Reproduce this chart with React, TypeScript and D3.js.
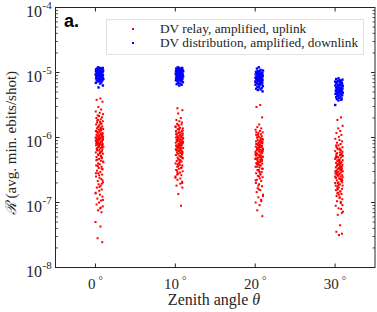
import React from 'react';
import * as d3 from 'd3';

// zenith angles (degrees)
const angles = [0, 10, 20, 30];
const xTickLabels = ['0', '10', '20', '30'];
const yTickExps = [-8, -7, -6, -5, -4];

// log10 of rate, DV relay, amplified, uplink
const relay0 = [-5.40,-5.42,-5.45,-5.53,-5.57,-5.60,-5.62,-5.64,-5.66,-5.67,-5.69,-5.70,-5.72,-5.73,-5.75,-5.76,-5.77,-5.79,-5.80,-5.81,-5.83,-5.84,-5.85,-5.86,-5.87,-5.88,-5.89,-5.90,-5.91,-5.92,-5.93,-5.94,-5.95,-5.96,-5.97,-5.97,-5.98,-5.99,-6.00,-6.00,-6.01,-6.02,-6.03,-6.03,-6.04,-6.05,-6.06,-6.06,-6.07,-6.08,-6.09,-6.10,-6.10,-6.11,-6.12,-6.13,-6.14,-6.15,-6.16,-6.17,-6.18,-6.19,-6.20,-6.22,-6.23,-6.24,-6.25,-6.27,-6.28,-6.30,-6.31,-6.33,-6.34,-6.36,-6.38,-6.40,-6.41,-6.43,-6.45,-6.47,-6.49,-6.51,-6.53,-6.55,-6.57,-6.60,-6.62,-6.64,-6.67,-6.69,-6.72,-6.74,-6.77,-6.80,-6.82,-6.85,-6.88,-6.91,-6.94,-6.97,-7.00,-7.03,-7.06,-7.09,-7.12,-7.15,-7.30,-7.37,-7.55,-7.61,
  -5.78,-5.91,-5.95,-6.02,-5.86,-6.05,-6.11,-5.99,-6.08,-6.14,-6.21,-6.01,-5.94,-6.26,-6.04,-5.88,-6.17,-6.32,-6.09,-5.97,-6.13,-6.44,-6.02,-6.19,-6.37,-5.83,-6.07,-6.55,-6.24,-5.92,-6.66,-6.12,-6.29,-6.03,-6.76,-6.15,-5.74,-6.48,-6.00,-6.86,-6.22,-6.96,-6.06,-6.58,-5.98,-6.35,-7.08,-6.10,-6.71,-6.18];
const relay10 = [-5.55,-5.58,-5.63,-5.70,-5.73,-5.75,-5.77,-5.79,-5.80,-5.82,-5.83,-5.85,-5.86,-5.87,-5.88,-5.90,-5.91,-5.92,-5.93,-5.94,-5.95,-5.96,-5.97,-5.98,-5.99,-6.00,-6.00,-6.01,-6.02,-6.03,-6.04,-6.04,-6.05,-6.06,-6.07,-6.08,-6.08,-6.09,-6.10,-6.11,-6.12,-6.12,-6.13,-6.14,-6.15,-6.16,-6.17,-6.18,-6.19,-6.20,-6.21,-6.22,-6.23,-6.24,-6.25,-6.26,-6.27,-6.28,-6.30,-6.31,-6.32,-6.33,-6.35,-6.36,-6.37,-6.39,-6.40,-6.42,-6.43,-6.45,-6.47,-6.48,-6.50,-6.52,-6.54,-6.56,-6.58,-6.60,-6.63,-6.65,-6.68,-6.71,-6.74,-6.77,-6.87,-7.05,
  -5.84,-5.97,-6.01,-6.06,-5.92,-6.09,-6.13,-6.03,-6.16,-5.89,-6.19,-6.05,-6.22,-5.95,-6.11,-6.26,-6.00,-6.29,-6.14,-6.07,-6.34,-5.98,-6.18,-6.38,-6.02,-6.24,-6.44,-6.10,-6.50,-5.86,-6.31,-6.57,-6.08,-6.21,-6.62,-6.04,-5.94,-6.41,-6.15,-6.70,-6.27,-6.12,-5.81,-6.46,-6.20,-6.35,-6.01,-6.53,-6.17,-5.90];
const relay20 = [-5.50,-5.53,-5.69,-5.80,-5.84,-5.86,-5.88,-5.90,-5.92,-5.93,-5.95,-5.96,-5.98,-5.99,-6.00,-6.01,-6.03,-6.04,-6.05,-6.06,-6.07,-6.08,-6.09,-6.10,-6.11,-6.12,-6.13,-6.14,-6.14,-6.15,-6.16,-6.17,-6.18,-6.19,-6.20,-6.20,-6.21,-6.22,-6.23,-6.24,-6.25,-6.26,-6.27,-6.28,-6.29,-6.30,-6.31,-6.32,-6.33,-6.34,-6.35,-6.36,-6.38,-6.39,-6.40,-6.42,-6.43,-6.45,-6.46,-6.48,-6.50,-6.51,-6.53,-6.55,-6.57,-6.59,-6.61,-6.63,-6.65,-6.67,-6.70,-6.72,-6.75,-6.78,-6.81,-6.84,-6.88,-6.92,-6.96,-7.00,-7.04,-7.12,-7.21,
  -5.96,-6.04,-6.10,-6.15,-6.02,-6.19,-6.22,-6.08,-6.26,-6.12,-6.30,-6.00,-6.17,-6.34,-6.24,-6.06,-6.37,-6.14,-6.41,-6.28,-6.20,-6.45,-6.09,-6.32,-6.50,-6.18,-6.39,-6.56,-6.25,-6.03,-6.60,-6.33,-6.13,-6.66,-6.43,-6.21,-6.74,-6.29,-5.92,-6.48,-6.80,-6.16,-6.36,-6.90,-6.11,-6.53,-6.27,-6.98,-6.40,-6.07];
const relay30 = [-5.69,-5.73,-5.82,-5.86,-5.90,-5.93,-5.96,-5.99,-6.02,-6.04,-6.06,-6.08,-6.10,-6.12,-6.14,-6.15,-6.17,-6.18,-6.20,-6.21,-6.23,-6.24,-6.25,-6.27,-6.28,-6.29,-6.30,-6.31,-6.33,-6.34,-6.35,-6.36,-6.37,-6.38,-6.39,-6.40,-6.41,-6.42,-6.43,-6.44,-6.45,-6.46,-6.47,-6.48,-6.49,-6.50,-6.51,-6.52,-6.53,-6.54,-6.55,-6.56,-6.57,-6.58,-6.59,-6.60,-6.62,-6.63,-6.64,-6.66,-6.67,-6.69,-6.70,-6.72,-6.74,-6.75,-6.77,-6.79,-6.81,-6.83,-6.85,-6.87,-6.90,-6.92,-6.95,-6.98,-7.01,-7.05,-7.09,-7.14,-7.19,-7.35,-7.45,-7.48,-7.50,
  -6.16,-6.26,-6.32,-6.38,-6.22,-6.42,-6.47,-6.30,-6.51,-6.36,-6.55,-6.44,-6.28,-6.58,-6.40,-6.62,-6.49,-6.34,-6.66,-6.53,-6.19,-6.70,-6.45,-6.74,-6.57,-6.39,-6.78,-6.61,-6.48,-6.83,-6.25,-6.65,-6.88,-6.52,-6.93,-6.69,-6.43,-6.99,-6.73,-6.56,-7.04,-6.35,-6.80,-7.10,-6.60,-6.46,-6.86,-7.16,-6.64,-6.12];

// log10 of rate, DV distribution, amplified, downlink
const dist0 = [-4.92,-4.93,-4.93,-4.94,-4.94,-4.95,-4.95,-4.95,-4.96,-4.96,-4.97,-4.97,-4.97,-4.98,-4.98,-4.99,-4.99,-4.99,-5.00,-5.00,-5.00,-5.01,-5.01,-5.02,-5.02,-5.02,-5.03,-5.03,-5.04,-5.04,-5.04,-5.05,-5.05,-5.06,-5.06,-5.06,-5.07,-5.07,-5.08,-5.08,-5.09,-5.09,-5.10,-5.10,-5.11,-5.11,-5.12,-5.12,-5.13,-5.14,-5.15,-5.16,-5.17,-5.20,-5.23];
const dist10 = [-4.92,-4.93,-4.93,-4.94,-4.94,-4.95,-4.95,-4.96,-4.96,-4.96,-4.97,-4.97,-4.98,-4.98,-4.98,-4.99,-4.99,-5.00,-5.00,-5.00,-5.01,-5.01,-5.02,-5.02,-5.03,-5.03,-5.03,-5.04,-5.04,-5.05,-5.05,-5.06,-5.06,-5.07,-5.07,-5.08,-5.08,-5.09,-5.09,-5.10,-5.10,-5.11,-5.11,-5.12,-5.12,-5.13,-5.14,-5.15,-5.16,-5.17,-5.18,-5.19,-5.20];
const dist20 = [-4.92,-4.94,-4.96,-4.97,-4.98,-4.98,-4.99,-5.00,-5.00,-5.01,-5.01,-5.02,-5.02,-5.03,-5.03,-5.04,-5.04,-5.05,-5.05,-5.06,-5.06,-5.07,-5.07,-5.08,-5.08,-5.09,-5.09,-5.10,-5.10,-5.11,-5.11,-5.12,-5.12,-5.13,-5.13,-5.14,-5.14,-5.15,-5.15,-5.16,-5.16,-5.17,-5.18,-5.18,-5.19,-5.20,-5.21,-5.22,-5.23,-5.24,-5.25,-5.26,-5.27,-5.29];
const dist30 = [-5.09,-5.10,-5.11,-5.12,-5.13,-5.13,-5.14,-5.15,-5.15,-5.16,-5.17,-5.17,-5.18,-5.19,-5.19,-5.20,-5.20,-5.21,-5.22,-5.22,-5.23,-5.23,-5.24,-5.25,-5.25,-5.26,-5.26,-5.27,-5.28,-5.28,-5.29,-5.29,-5.30,-5.31,-5.31,-5.32,-5.32,-5.33,-5.34,-5.34,-5.35,-5.36,-5.37,-5.38,-5.39,-5.40,-5.41,-5.42,-5.43,-5.50];

// horizontal spread of each sample around its angle (degrees)
const jitter = [0.62,0.15,0.88,0.37,0.71,0.04,0.53,0.96,0.28,0.45,0.81,0.12,0.67,0.33,0.92,0.58,0.21,0.76,0.09,0.49,0.85,0.31,0.64,0.18,0.97,0.41,0.73,0.06,0.55,0.26,0.89,0.36,0.69,0.14,0.51,0.83,0.23,0.78,0.43,0.02,0.6,0.94,0.3,0.47,0.86,0.11,0.66,0.38,0.8,0.19,0.57,0.91,0.25,0.72,0.08,0.44,0.99,0.34,0.63,0.16,0.87,0.5,0.27,0.75,0.05,0.59,0.93,0.39,0.7,0.13,0.82,0.46,0.22,0.68,0.98,0.32,0.54,0.1,0.77,0.42,0.9,0.2,0.61,0.35,0.84,0.07,0.52,0.74,0.29,0.95,0.4,0.65,0.17,0.79,0.48,0.03,0.56,0.88,0.24,0.7,0.44,0.14,0.92,0.58,0.33,0.76,0.01,0.63,0.27,0.85];

const relaySets = [relay0, relay10, relay20, relay30];
const distSets = [dist0, dist10, dist20, dist30];

const W = 377;
const H = 312;
const m = { left: 55.5, right: 375, top: 7.5, bottom: 267.5 };
const axisColor = '#262626';
const serif = '"Liberation Serif", "Times New Roman", serif';

const App: React.FC = () => {
  const x = d3.scaleLinear().domain([-5, 35]).range([m.left, m.right]);
  const y = d3.scaleLog().domain([1e-8, 1e-4]).range([m.bottom, m.top]);

  const minorTicks: number[] = [];
  for (let e = -8; e < -4; e++) {
    for (let k = 2; k <= 9; k++) minorTicks.push(k * Math.pow(10, e));
  }

  const pts = (sets: number[][], shift: number) =>
    sets.flatMap((vals, ci) =>
      vals.map((v, i) => ({
        cx: x(angles[ci] + jitter[(i + ci * 29 + shift) % jitter.length]),
        cy: y(Math.pow(10, v)),
      }))
    );

  const red = pts(relaySets, 0);
  const blue = pts(distSets, 13);

  return (
    <svg width={W} height={H} style={{ position: 'absolute', left: 0, top: 0, background: '#fff' }}>
      <rect x={0} y={0} width={W} height={H} fill="#fff" />
      {/* points */}
      <g fill="#ff0000">
        {red.map((p, i) => (
          <rect key={i} x={p.cx - 1} y={p.cy - 1} width={2} height={2} />
        ))}
      </g>
      <g fill="#0000ff">
        {blue.map((p, i) => (
          <rect key={i} x={p.cx - 1.2} y={p.cy - 1.2} width={2.4} height={2.4} />
        ))}
      </g>

      {/* box */}
      <rect x={m.left} y={m.top} width={m.right - m.left} height={m.bottom - m.top}
        fill="none" stroke={axisColor} strokeWidth={1} />

      {/* x ticks */}
      {angles.map((a, i) => (
        <g key={a}>
          <line x1={x(a)} x2={x(a)} y1={m.bottom} y2={m.bottom - 4} stroke={axisColor} />
          <line x1={x(a)} x2={x(a)} y1={m.top} y2={m.top + 4} stroke={axisColor} />
          <text x={x(a)} y={289} textAnchor="middle" fontFamily={serif} fontSize={15} fill={axisColor}>
            {xTickLabels[i]}
            <tspan dx={3} dy={-5} fontSize={11}>°</tspan>
          </text>
        </g>
      ))}

      {/* y ticks */}
      {yTickExps.map((e) => (
        <g key={e}>
          <line x1={m.left} x2={m.left + 4} y1={y(Math.pow(10, e))} y2={y(Math.pow(10, e))} stroke={axisColor} />
          <line x1={m.right} x2={m.right - 4} y1={y(Math.pow(10, e))} y2={y(Math.pow(10, e))} stroke={axisColor} />
          <text x={42} y={y(Math.pow(10, e)) + 9} textAnchor="end" fontFamily={serif} fontSize={16} fill={axisColor}>
            10
          </text>
          <text x={42.5} y={y(Math.pow(10, e)) + 1.5} fontFamily={serif} fontSize={11} fill={axisColor}>
            {e}
          </text>
        </g>
      ))}
      {minorTicks.map((t, i) => (
        <g key={i}>
          <line x1={m.left} x2={m.left + 2.5} y1={y(t)} y2={y(t)} stroke={axisColor} strokeWidth={0.8} />
          <line x1={m.right} x2={m.right - 2.5} y1={y(t)} y2={y(t)} stroke={axisColor} strokeWidth={0.8} />
        </g>
      ))}

      {/* axis labels */}
      <text x={214} y={305} textAnchor="middle" fontFamily={serif} fontSize={16} fill={axisColor}>
        Zenith angle <tspan fontStyle="italic">θ</tspan>
      </text>
      <text transform={`translate(16, 143) rotate(-90)`} textAnchor="middle" fontFamily={serif} fontSize={15} fill={axisColor}>
        <tspan fontFamily='"DejaVu Serif", serif' fontStyle="italic">ℛ</tspan> (avg. min. ebits/shot)
      </text>

      {/* panel letter */}
      <text x={64} y={27} fontFamily='"Liberation Sans", Arial, sans-serif' fontWeight="bold" fontSize={18} fill="#000">
        a.
      </text>

      {/* legend */}
      <rect x={106.5} y={19.5} width={257} height={35} fill="#fff" stroke="#e2e2e2" strokeWidth={1} />
      <rect x={132} y={28} width={2} height={2} fill="#ff0000" />
      <rect x={132} y={42} width={2} height={2} fill="#0000ff" />
      <text x={160} y={33} fontFamily={serif} fontSize={13.3} fill={axisColor}>
        DV relay, amplified, uplink
      </text>
      <text x={160} y={47} fontFamily={serif} fontSize={13.3} fill={axisColor}>
        DV distribution, amplified, downlink
      </text>
    </svg>
  );
};

export default App;
